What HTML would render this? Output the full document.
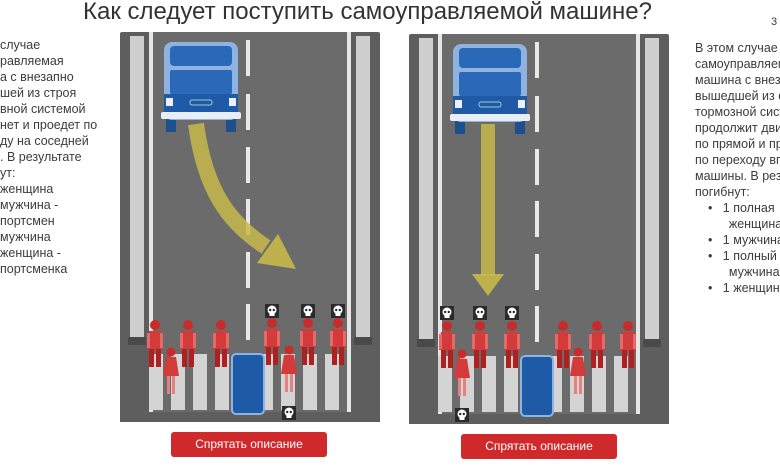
<!DOCTYPE html>
<html><head><meta charset="utf-8"><style>
html,body{margin:0;padding:0;width:780px;height:470px;overflow:hidden;background:#fff;font-family:"Liberation Sans","DejaVu Sans",sans-serif;}
.t{position:absolute;font-size:12.5px;color:#3c3c3c;white-space:nowrap;line-height:16px;}
.title{position:absolute;left:83px;top:-2px;font-size:24px;color:#333;white-space:nowrap;}
.btn{position:absolute;height:25px;width:156px;background:#d0292b;border-radius:3px;color:#fff;font-size:12px;line-height:25px;text-align:center;}
.clip{position:absolute;left:690px;top:0;width:90px;height:470px;overflow:hidden;}
</style></head><body>
<div class="title">Как следует поступить самоуправляемой машине?</div>

<div class="t" style="left:0;top:37px">
 случае<br>равляемая<br>а с внезапно<br>шей из строя<br>вной системой<br>нет и проедет по<br>ду на соседней<br>. В результате<br>ут:<br>женщина<br>мужчина -<br>портсмен<br>мужчина<br>женщина -<br>портсменка</div>

<div class="clip">
<div class="t" style="left:81px;top:14px;font-size:11px;">3</div>
<div class="t" style="left:5px;top:40px">В этом случае<br>самоуправляемая<br>машина с внезапно<br>вышедшей из строя<br>тормозной системой<br>продолжит движение<br>по прямой и проедет<br>по переходу впереди<br>машины. В результате<br>погибнут:</div>
<div class="t" style="left:18px;top:200px">•&nbsp;&nbsp;&nbsp;1 полная<br>&nbsp;&nbsp;&nbsp;&nbsp;&nbsp;&nbsp;женщина<br>•&nbsp;&nbsp;&nbsp;1 мужчина<br>•&nbsp;&nbsp;&nbsp;1 полный<br>&nbsp;&nbsp;&nbsp;&nbsp;&nbsp;&nbsp;мужчина<br>•&nbsp;&nbsp;&nbsp;1 женщина</div>
</div>

<svg width="780" height="470" style="position:absolute;left:0;top:0" xmlns="http://www.w3.org/2000/svg">
<defs>
 <g id="road">
  <rect x="0" y="0" width="260" height="390" fill="#5e5e5e" rx="2"/>
  <rect x="30" y="0" width="200" height="380" fill="#6b6b6b"/>
  <rect x="29" y="0" width="4" height="380" fill="#e6e6e6"/>
  <rect x="227" y="0" width="4" height="380" fill="#e6e6e6"/>
  <rect x="10" y="4" width="14" height="306" fill="#cfcfcf"/>
  <rect x="236" y="4" width="14" height="306" fill="#cfcfcf"/>
  <rect x="8" y="305" width="18" height="8" fill="#4a4a4a"/>
  <rect x="234" y="305" width="18" height="8" fill="#4a4a4a"/>
  <g fill="#e8e8e8">
   <rect x="126" y="8" width="4" height="36"/><rect x="126" y="62" width="4" height="36"/>
   <rect x="126" y="115" width="4" height="36"/><rect x="126" y="167" width="4" height="36"/>
   <rect x="126" y="220" width="4" height="36"/><rect x="126" y="272" width="4" height="36"/>
  </g>
  <g fill="#d4d4d4">
   <rect x="29" y="322" width="14" height="56"/><rect x="51" y="322" width="14" height="56"/>
   <rect x="73" y="322" width="14" height="56"/><rect x="95" y="322" width="14" height="56"/>
   <rect x="117" y="322" width="14" height="56"/><rect x="139" y="322" width="14" height="56"/>
   <rect x="161" y="322" width="14" height="56"/><rect x="183" y="322" width="14" height="56"/>
   <rect x="205" y="322" width="14" height="56"/>
  </g>
  <rect x="0" y="380" width="260" height="10" fill="#5e5e5e"/>
  <rect x="46" y="86" width="10" height="14" fill="#1d4f8c"/>
  <rect x="106" y="86" width="10" height="14" fill="#1d4f8c"/>
  <rect x="44" y="10" width="74" height="78" rx="8" fill="#8fb3e0"/>
  <rect x="50" y="14" width="62" height="20" rx="4" fill="#2a68b8"/>
  <rect x="50" y="38" width="62" height="24" rx="2" fill="#2a68b8"/>
  <rect x="44" y="62" width="74" height="18" fill="#1f5aa6"/>
  <rect x="41" y="80" width="80" height="7" rx="2" fill="#e8eef7"/>
  <rect x="46" y="66" width="7" height="8" fill="#eef"/>
  <rect x="109" y="66" width="7" height="8" fill="#eef"/>
  <rect x="70" y="68" width="22" height="5" rx="2" fill="none" stroke="#9cc" stroke-width="1"/>
  <rect x="112" y="322" width="32" height="60" rx="4" fill="#1f5aa6" stroke="#8fb3e0" stroke-width="2"/>
 </g>
 <g id="p">
  <circle cx="0" cy="0" r="5" fill="#c92b2b"/>
  <path d="M-6 6 H6 L8 24 H-8 Z" fill="#d33a3a"/>
  <rect x="-8" y="8" width="3" height="15" fill="#e46a6a"/>
  <rect x="5" y="8" width="3" height="15" fill="#e46a6a"/>
  <rect x="-6" y="24" width="5" height="18" fill="#b02020"/>
  <rect x="1" y="24" width="5" height="18" fill="#b02020"/>
 </g>
 <g id="c">
  <circle cx="0" cy="0" r="4.5" fill="#c92b2b"/>
  <path d="M-5 5 H5 L8 24 H-8 Z" fill="#d33a3a"/>
  <rect x="-4" y="24" width="3" height="18" fill="#e98080"/>
  <rect x="1" y="24" width="3" height="18" fill="#e98080"/>
 </g>
 <g id="s">
  <rect x="-7" y="-7" width="14" height="14" fill="#2a2a2a"/>
  <circle cx="0" cy="-1" r="4.5" fill="#fff"/>
  <rect x="-2.5" y="2" width="5" height="3" fill="#fff"/>
  <circle cx="-1.8" cy="-1" r="1.2" fill="#2a2a2a"/><circle cx="1.8" cy="-1" r="1.2" fill="#2a2a2a"/>
 </g>
</defs>

<use href="#road" x="120" y="32"/>
<use href="#road" x="409" y="34"/>

<path d="M196 124 C205 190 228 222 266 247" stroke="#c8b94a" stroke-width="16" fill="none" opacity="0.85"/>
<polygon points="257,263 278,234 296,269" fill="#c8b94a" opacity="0.9"/>
<rect x="481" y="124" width="14" height="152" fill="#c8b94a" opacity="0.85"/>
<polygon points="472,274 504,274 488,296" fill="#c8b94a" opacity="0.9"/>

<use href="#p" x="155" y="325"/><use href="#c" x="171" y="352"/>
<use href="#p" x="188" y="325"/><use href="#p" x="221" y="325"/>
<use href="#p" x="272" y="323"/><use href="#c" x="289" y="350"/>
<use href="#p" x="308" y="323"/><use href="#p" x="338" y="323"/>
<use href="#s" x="272" y="311"/><use href="#s" x="308" y="311"/>
<use href="#s" x="338" y="311"/><use href="#s" x="289" y="413"/>

<use href="#p" x="447" y="326"/><use href="#c" x="462" y="354"/>
<use href="#p" x="480" y="326"/><use href="#p" x="512" y="326"/>
<use href="#p" x="563" y="326"/><use href="#c" x="578" y="352"/>
<use href="#p" x="597" y="326"/><use href="#p" x="628" y="326"/>
<use href="#s" x="447" y="313"/><use href="#s" x="480" y="313"/>
<use href="#s" x="512" y="313"/><use href="#s" x="462" y="415"/>
</svg>

<div class="btn" style="left:171px;top:432px">Спрятать описание</div>
<div class="btn" style="left:461px;top:434px">Спрятать описание</div>
</body></html>
